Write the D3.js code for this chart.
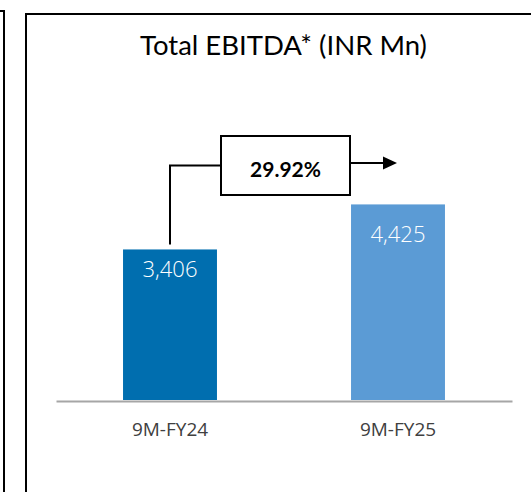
<!DOCTYPE html>
<html>
<head>
<meta charset="utf-8">
<script src="https://cdn.jsdelivr.net/npm/d3@7"></script>
<style>
  html, body { margin: 0; padding: 0; background: #fff; }
  svg { display: block; }
</style>
</head>
<body>
<svg id="chart" width="531" height="492"></svg>
<script>
// ---- data ----
const categories = ["9M-FY24", "9M-FY25"];
const values = [3406, 4425];
const growthLabel = "29.92%";
const title = "Total EBITDA* (INR Mn)";
const barColors = ["#006EAF", "#5B9BD5"];

// ---- layout ----
const W = 531, H = 492;
const svg = d3.select("#chart");

const x = d3.scaleBand()
  .domain(categories)
  .range([56, 512])
  .paddingInner(0.588)
  .paddingOuter(0.294);

const y = d3.scaleLinear()
  .domain([0, 5000])
  .range([400, 179]);

// panel borders
svg.append("path")
  .attr("d", "M-5,11H4V500")
  .attr("fill", "none").attr("stroke", "#000").attr("stroke-width", 2);
svg.append("path")
  .attr("d", "M26,540V14H560")
  .attr("fill", "none").attr("stroke", "#000").attr("stroke-width", 2);

// title
svg.append("text")
  .attr("x", 283.5).attr("y", 55)
  .attr("text-anchor", "middle")
  .style("font-family", "Lato, 'Open Sans', sans-serif")
  .style("font-size", "27.5px")
  .attr("fill", "#000")
  .text(title);

// bars
svg.selectAll("rect.bar")
  .data(values)
  .join("rect")
  .attr("class", "bar")
  .attr("x", (d, i) => x(categories[i]))
  .attr("width", x.bandwidth())
  .attr("y", d => y(d))
  .attr("height", d => y(0) - y(d))
  .attr("fill", (d, i) => barColors[i]);

// value labels
const labelDy = [28, 38];
svg.selectAll("text.val")
  .data(values)
  .join("text")
  .attr("class", "val")
  .attr("x", (d, i) => x(categories[i]) + x.bandwidth() / 2)
  .attr("y", (d, i) => y(d) + labelDy[i])
  .attr("text-anchor", "middle")
  .style("font-family", "'Open Sans', sans-serif")
  .style("font-size", "22px")
  .style("font-weight", "300")
  .attr("fill", "#fff")
  .text(d => d3.format(",")(d));

// x axis
const xAxis = d3.axisBottom(x).tickSize(0).tickPadding(0);
const gx = svg.append("g").attr("transform", "translate(0,401)").call(xAxis);
gx.select(".domain").attr("stroke", "#A6A6A6").attr("stroke-width", 2);
gx.selectAll(".tick text")
  .attr("dy", 0)
  .attr("y", 35)
  .style("font-family", "'Open Sans', sans-serif")
  .style("font-size", "19px")
  .attr("fill", "#404040");

// growth annotation
const c0 = x(categories[0]) + x.bandwidth() / 2;
const c1 = x(categories[1]) + x.bandwidth() / 2;
const boxX0 = 221, boxX1 = 350, boxY0 = 136, boxY1 = 195;
const midY = (boxY0 + boxY1) / 2;
svg.append("path")
  .attr("d", `M${c0},${y(values[0]) - 5}V${midY}H${boxX0}`)
  .attr("fill", "none").attr("stroke", "#000").attr("stroke-width", 2);
svg.append("rect")
  .attr("x", boxX0).attr("y", boxY0)
  .attr("width", boxX1 - boxX0).attr("height", boxY1 - boxY0)
  .attr("fill", "#fff").attr("stroke", "#000").attr("stroke-width", 2);
svg.append("path")
  .attr("d", `M${boxX1},${midY - 2.5}H${c1 - 14}`)
  .attr("fill", "none").attr("stroke", "#000").attr("stroke-width", 2);
svg.append("path")
  .attr("d", `M${c1 - 15},${midY - 9}L${c1 - 1},${midY - 2.5}L${c1 - 15},${midY + 4}Z`)
  .attr("fill", "#000");
svg.append("text")
  .attr("x", (boxX0 + boxX1) / 2).attr("y", 177)
  .attr("text-anchor", "middle")
  .style("font-family", "Lato, sans-serif")
  .style("font-size", "21px")
  .style("font-weight", "700")
  .attr("fill", "#000")
  .text(growthLabel);
</script>
</body>
</html>
